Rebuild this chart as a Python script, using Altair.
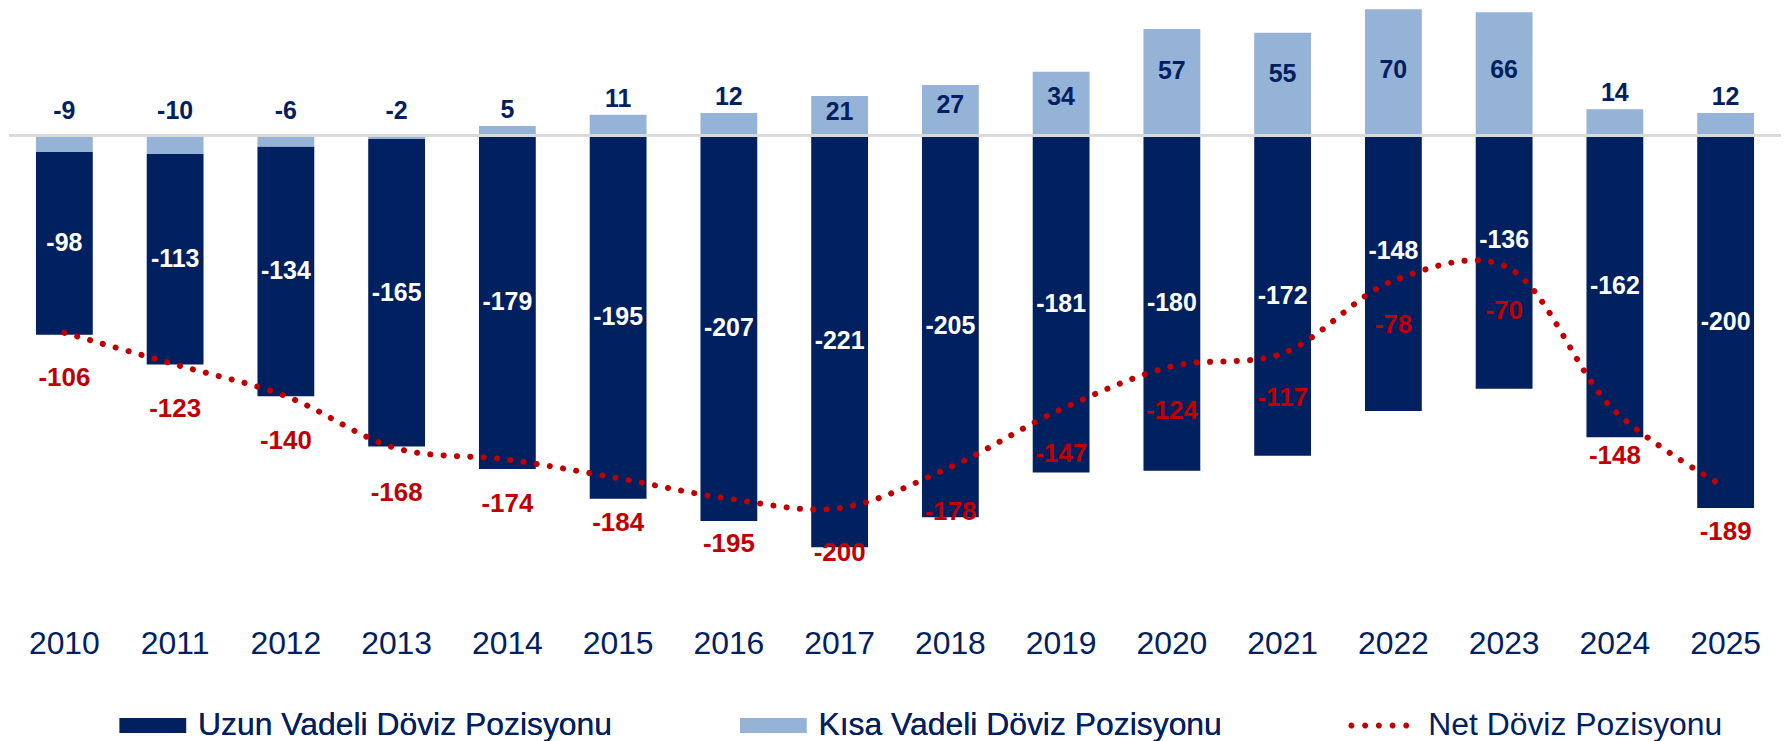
import altair as alt
import pandas as pd

# ---- data ----
YEARS = [str(y) for y in range(2010, 2026)]
LONG = [-98, -113, -134, -165, -179, -195, -207, -221, -205, -181, -180, -172, -148, -136, -162, -200]
SHORT = [-9, -10, -6, -2, 5, 11, 12, 21, 27, 34, 57, 55, 70, 66, 14, 12]
NET = [-106, -123, -140, -168, -174, -184, -195, -200, -178, -147, -124, -117, -78, -70, -148, -189]

S_LONG = "Uzun Vadeli Döviz Pozisyonu"
S_SHORT = "Kısa Vadeli Döviz Pozisyonu"
S_NET = "Net Döviz Pozisyonu"

NAVY = "#002060"
LIGHT = "#95B3D7"
RED = "#C00000"
ZERO = "#D9D9D9"
FONT = "Liberation Sans"

df = pd.DataFrame({"year": YEARS, "long": LONG, "short": SHORT, "net": NET})

W, H = 1778, 594
yscale = alt.Scale(domain=[-250, 67.6], nice=False, zero=False)
xenc = alt.X(
    "year:O",
    scale=alt.Scale(paddingInner=0.487, paddingOuter=0.2435),
    axis=alt.Axis(title=None, labelFontSize=32, labelColor=NAVY, labelFont=FONT,
                  ticks=False, tickSize=0, domain=False, grid=False,
                  labelPadding=27.5, labelAngle=0),
)

base = alt.Chart(df).transform_calculate(
    base0="min(datum.short, 0)",
    longEnd="min(datum.short, 0) + datum.long",
    longMid="min(datum.short, 0) + datum.long / 2",
    shortTxt="'' + datum.short",
    longTxt="'' + datum.long",
    netTxt="'' + datum.net",
).transform_calculate(
    longLab="abs(datum.longMid - datum.net) < 15 ? datum.longMid + 12 : datum.longMid",
    shortLab="datum.short < 15 ? max(datum.short + 8.5, 13) : min(datum.short * 0.6, 35)",
)

# legend symbols (unit = 8px because symbolSize 256 -> sqrt 16 -> half 8)
RECT = "M-1,-0.9375H7.34V0.9375H-1Z"
r = 0.1875
dots = []
for cx in [-0.625, 1.094, 2.8125, 4.531, 6.25]:
    dots.append(f"M{cx - r:.4f},0A{r},{r} 0 1,0 {cx + r:.4f},0A{r},{r} 0 1,0 {cx - r:.4f},0Z")
DOTS = "".join(dots)

color = alt.Color(
    "series:N",
    scale=alt.Scale(domain=[S_LONG, S_SHORT], range=[NAVY, LIGHT]),
    legend=alt.Legend(title=None, orient="none", legendX=103, legendY=702.7,
                      direction="horizontal", symbolType=RECT, symbolSize=256,
                      symbolStrokeWidth=0, labelFontSize=32, labelFont=FONT,
                      labelColor=NAVY, labelLimit=700, labelOffset=54.7,
                      columnPadding=119.5, padding=0, labelBaseline="middle"),
)

long_bar = base.transform_calculate(series=f"'{S_LONG}'").mark_bar(clip=True).encode(
    x=xenc,
    y=alt.Y("base0:Q", scale=yscale, axis=None),
    y2="longEnd:Q",
    color=color,
)
short_bar = base.transform_calculate(series=f"'{S_SHORT}'").mark_bar(clip=True).encode(
    x=xenc,
    y=alt.Y("short:Q", scale=yscale, axis=None),
    y2=alt.datum(0),
    color=color,
)

zero_rule = alt.Chart(df).mark_rule(color=ZERO, strokeWidth=2).encode(
    y=alt.Y(datum=0, scale=yscale, axis=None)
)

net_line = base.transform_calculate(nseries=f"'{S_NET}'").mark_line(
    interpolate="catmull-rom", strokeWidth=6, strokeCap="round", strokeDash=[0.1, 13.3]
).encode(
    x=xenc,
    y=alt.Y("net:Q", scale=yscale, axis=None),
    stroke=alt.Stroke(
        "nseries:N",
        scale=alt.Scale(domain=[S_NET], range=[RED]),
        legend=alt.Legend(title=None, orient="none", legendX=1336, legendY=702.7,
                          symbolType=DOTS, symbolSize=256, symbolStrokeWidth=3,
                          symbolDash=[1, 0], symbolFillColor=RED,
                          labelFontSize=32, labelFont=FONT, labelColor=NAVY,
                          labelLimit=700, labelOffset=56, padding=0,
                          labelBaseline="middle"),
    ),
)

short_txt = base.mark_text(font=FONT, fontSize=25, fontWeight="bold", color=NAVY,
                           baseline="middle").encode(
    x=xenc, y=alt.Y("shortLab:Q", scale=yscale, axis=None), text="shortTxt:N")
long_txt = base.mark_text(font=FONT, fontSize=25, fontWeight="bold", color="white",
                          baseline="middle").encode(
    x=xenc, y=alt.Y("longLab:Q", scale=yscale, axis=None), text="longTxt:N")
net_txt = base.mark_text(font=FONT, fontSize=26, fontWeight="bold", color=RED,
                         baseline="middle", dy=45).encode(
    x=xenc, y=alt.Y("net:Q", scale=yscale, axis=None), text="netTxt:N")

chart = alt.layer(
    long_bar, short_bar, zero_rule, net_line, short_txt, long_txt, net_txt
).resolve_legend(color="independent", stroke="independent").properties(
    width=W, height=H, background="white",
    padding={"left": 0, "top": 0, "right": 0, "bottom": 0}
).configure_view(stroke="transparent", strokeWidth=0)

chart.save("out.html", embed_options={"renderer": "svg", "actions": False})
